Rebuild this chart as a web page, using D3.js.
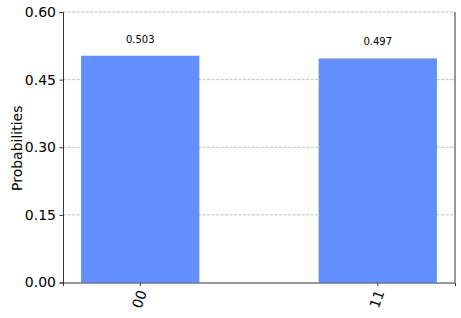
<!DOCTYPE html>
<html>
<head>
<meta charset="utf-8">
<script src="https://cdn.jsdelivr.net/npm/d3@7"></script>
<style>
  body { margin: 0; background: #fff; }
  text { font-family: "DejaVu Sans", sans-serif; }
</style>
</head>
<body>
<div id="chart"></div>
<script>
var states = ["00", "11"];
var probs = [0.503, 0.497];
var yTicks = [0, 0.15, 0.30, 0.45, 0.60];

var svgWidth = 461, svgHeight = 318;
var margin = { top: 12, right: 6, bottom: 35.5, left: 63 };
var width = svgWidth - margin.left - margin.right;
var height = svgHeight - margin.top - margin.bottom;

var svg = d3.select("#chart").append("svg")
  .attr("width", svgWidth)
  .attr("height", svgHeight);

var g = svg.append("g")
  .attr("transform", `translate(${margin.left}, ${margin.top})`);

var x = d3.scaleBand()
  .domain(states)
  .range([0, width])
  .paddingInner(0.502)
  .paddingOuter(0.076);

var y = d3.scaleLinear()
  .domain([0, 0.6])
  .range([height, 0]);

// grid
g.selectAll(".grid")
  .data(yTicks.filter(d => d > 0))
  .enter()
  .append("line")
  .attr("x1", 0).attr("x2", width)
  .attr("y1", d => y(d)).attr("y2", d => y(d))
  .attr("stroke", "#b0b0b0")
  .attr("stroke-width", 0.8)
  .attr("stroke-dasharray", "3,1.5");

// bars
g.selectAll(".bar")
  .data(probs)
  .enter()
  .append("rect")
  .attr("x", (d, i) => x(states[i]))
  .attr("y", d => y(d))
  .attr("width", x.bandwidth())
  .attr("height", d => height - y(d))
  .attr("fill", "#648fff");

// value labels
g.selectAll(".val")
  .data(probs)
  .enter()
  .append("text")
  .attr("x", (d, i) => x(states[i]) + x.bandwidth() / 2)
  .attr("y", d => y(d) - 13)
  .attr("text-anchor", "middle")
  .attr("font-size", 10)
  .attr("fill", "#000")
  .text(d => d.toFixed(3));

// axes
var leftAxis = d3.axisLeft(y).tickValues(yTicks).tickFormat(d3.format(".2f")).tickSize(3.5).tickPadding(3.5);
var yAx = g.append("g").call(leftAxis);
yAx.select(".domain").attr("stroke", "#333").attr("stroke-width", 1);
yAx.selectAll(".tick line").attr("stroke", "#333");
yAx.selectAll("text").attr("font-size", 14).attr("fill", "#000")
  .style("font-family", "DejaVu Sans");

var bottomAxis = d3.axisBottom(x).tickSize(3.5).tickFormat("");
var xAx = g.append("g").attr("transform", `translate(0, ${height})`).call(bottomAxis);
xAx.select(".domain").attr("stroke", "#333").attr("stroke-width", 1);
xAx.selectAll(".tick line").attr("stroke", "#333");

// rotated x labels
g.selectAll(".xlab")
  .data(states)
  .enter()
  .append("text")
  .attr("transform", d => `translate(${x(d) + x.bandwidth() / 2}, ${height + 17}) rotate(-70)`)
  .attr("text-anchor", "middle")
  .attr("dominant-baseline", "middle")
  .attr("font-size", 14)
  .attr("fill", "#000")
  .text(d => d);

// right spine
g.append("line")
  .attr("x1", width).attr("x2", width)
  .attr("y1", 0).attr("y2", height)
  .attr("stroke", "#333").attr("stroke-width", 1);

// y label
svg.append("text")
  .attr("transform", `translate(21.5, ${margin.top + height / 2 + 1}) rotate(-90)`)
  .attr("text-anchor", "middle")
  .attr("font-size", 14)
  .attr("fill", "#000")
  .text("Probabilities");
</script>
</body>
</html>
